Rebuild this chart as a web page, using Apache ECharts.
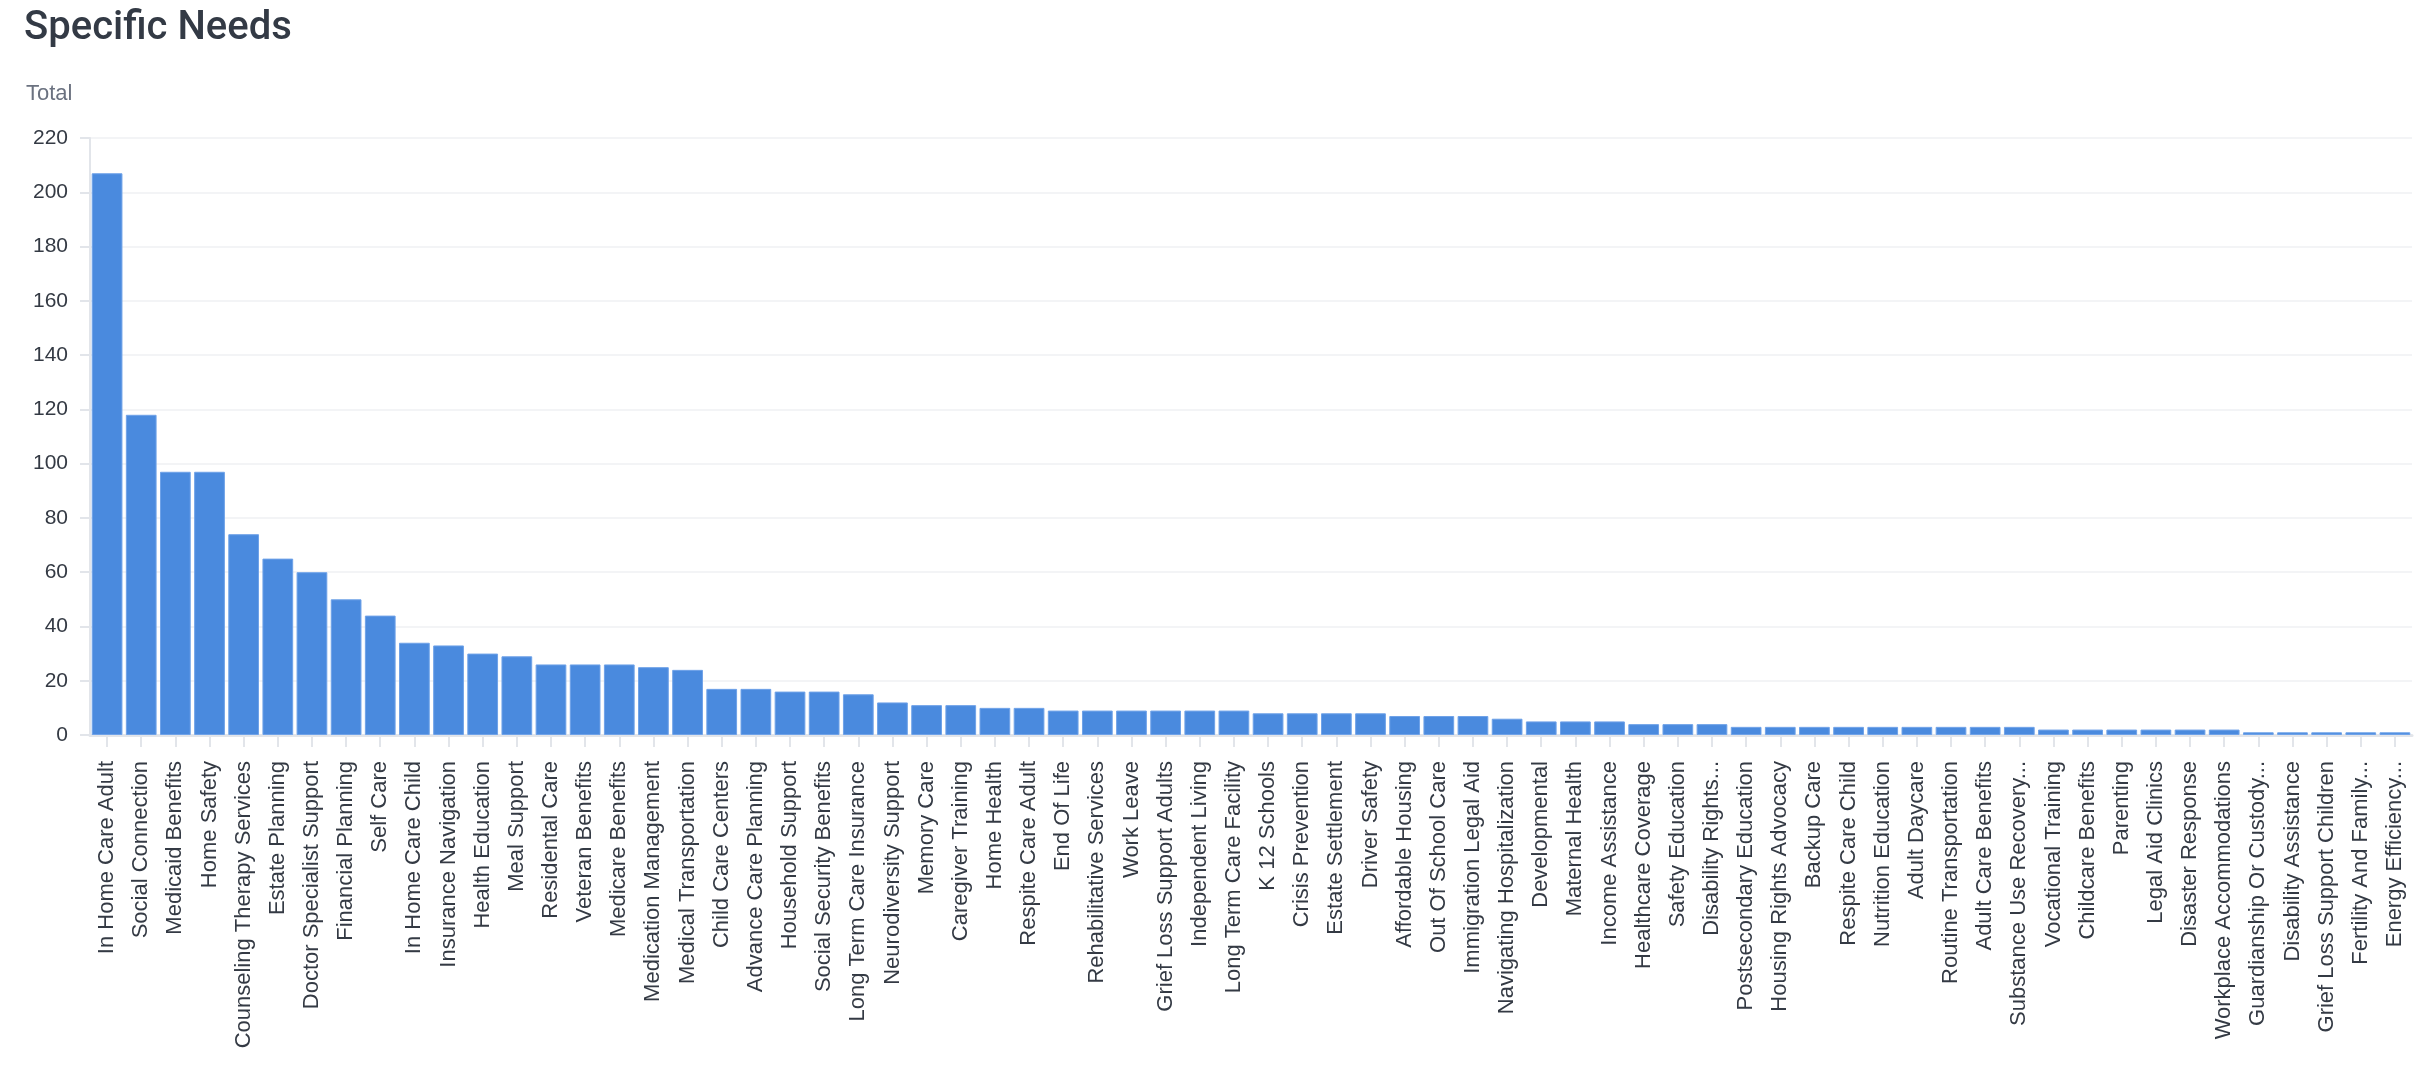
<!DOCTYPE html>
<html lang="en">
<head>
  <meta charset="UTF-8">
  <title>Specific Needs</title>
  <script src="https://cdn.jsdelivr.net/npm/echarts@6/dist/echarts.min.js"></script>
  <style>
    html, body { margin: 0; padding: 0; background: #fff; }
    #chart { width: 2428px; height: 1068px; }
  </style>
</head>
<body>
  <div id="chart"></div>
  <script>
    // categories as they appear on the x axis (long ones already cut with "...")
    const needs = [
      'In Home Care Adult', 'Social Connection', 'Medicaid Benefits', 'Home Safety',
      'Counseling Therapy Services', 'Estate Planning', 'Doctor Specialist Support',
      'Financial Planning', 'Self Care', 'In Home Care Child', 'Insurance Navigation',
      'Health Education', 'Meal Support', 'Residental Care', 'Veteran Benefits',
      'Medicare Benefits', 'Medication Management', 'Medical Transportation',
      'Child Care Centers', 'Advance Care Planning', 'Household Support',
      'Social Security Benefits', 'Long Term Care Insurance', 'Neurodiversity Support',
      'Memory Care', 'Caregiver Training', 'Home Health', 'Respite Care Adult',
      'End Of Life', 'Rehabilitative Services', 'Work Leave', 'Grief Loss Support Adults',
      'Independent Living', 'Long Term Care Facility', 'K 12 Schools', 'Crisis Prevention',
      'Estate Settlement', 'Driver Safety', 'Affordable Housing', 'Out Of School Care',
      'Immigration Legal Aid', 'Navigating Hospitalization', 'Developmental',
      'Maternal Health', 'Income Assistance', 'Healthcare Coverage', 'Safety Education',
      'Disability Rights...', 'Postsecondary Education', 'Housing Rights Advocacy',
      'Backup Care', 'Respite Care Child', 'Nutrition Education', 'Adult Daycare',
      'Routine Transportation', 'Adult Care Benefits', 'Substance Use Recovery...',
      'Vocational Training', 'Childcare Benefits', 'Parenting', 'Legal Aid Clinics',
      'Disaster Response', 'Workplace Accommodations', 'Guardianship Or Custody...',
      'Disability Assistance', 'Grief Loss Support Children', 'Fertility And Family...',
      'Energy Efficiency...'
    ];

    // totals per need
    const totals = [
      207, 118, 97, 97, 74, 65, 60, 50, 44, 34, 33, 30, 29, 26, 26, 26, 25, 24,
      17, 17, 16, 16, 15, 12, 11, 11, 10, 10, 9, 9, 9, 9, 9, 9, 8, 8, 8, 8,
      7, 7, 7, 6, 5, 5, 5, 4, 4, 4, 3, 3, 3, 3, 3, 3, 3, 3, 3,
      2, 2, 2, 2, 2, 2, 1, 1, 1, 1, 1
    ];

    // y axis ticks
    const yMin = 0;
    const yMax = 220;
    const yStep = 20;

    const font = "'Liberation Sans', Arial, Helvetica, sans-serif";

    const chart = echarts.init(document.getElementById('chart'));
    chart.setOption({
      animation: false,
      title: [
        {
          text: 'Specific Needs',
          left: 19, top: 4,
          textStyle: { fontFamily: "Roboto, 'Liberation Sans', sans-serif", fontSize: 40, fontWeight: 500, color: '#333a45' }
        },
        {
          text: 'Total',
          left: 21, top: 78,
          textStyle: { fontFamily: font, fontSize: 22, fontWeight: 'normal', color: '#6b7280' }
        }
      ],
      grid: { left: 90, right: 16, top: 138, bottom: 333, containLabel: false },
      xAxis: {
        type: 'category',
        data: needs,
        axisLine: { show: true, lineStyle: { color: '#e2e5ea', width: 3 } },
        axisTick: { show: true, alignWithLabel: true, length: 12, lineStyle: { color: '#e2e5ea', width: 2 } },
        axisLabel: {
          interval: 0, rotate: 90, margin: 26,
          fontFamily: font, fontSize: 22, color: '#343a44'
        },
        splitLine: { show: false }
      },
      yAxis: {
        type: 'value',
        min: yMin, max: yMax, interval: yStep,
        axisLine: { show: true, lineStyle: { color: '#e2e5ea', width: 2 } },
        axisTick: { show: true, length: 10, lineStyle: { color: '#e2e5ea', width: 2 } },
        axisLabel: { margin: 22, fontFamily: font, fontSize: 21, color: '#343a44' },
        splitLine: { show: true, lineStyle: { color: '#f3f4f6', width: 2 } }
      },
      series: [{
        name: 'Total',
        type: 'bar',
        data: totals,
        barWidth: '90%',
        itemStyle: { color: '#4a8ade', borderColor: '#6fa2e8', borderWidth: 1 }
      }]
    });
  </script>
</body>
</html>
